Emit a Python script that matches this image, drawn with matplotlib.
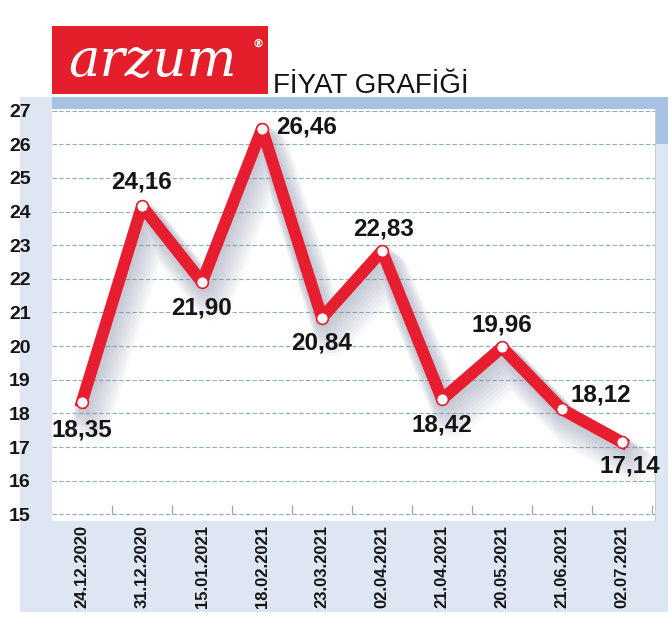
import matplotlib
matplotlib.use("Agg")
from matplotlib import pyplot as plt
from matplotlib import transforms
from matplotlib.patches import Rectangle

# Data
dates = ["24.12.2020", "31.12.2020", "15.01.2021", "18.02.2021", "23.03.2021",
         "02.04.2021", "21.04.2021", "20.05.2021", "21.06.2021", "02.07.2021"]
prices = [18.35, 24.16, 21.90, 26.46, 20.84, 22.83, 18.42, 19.96, 18.12, 17.14]
y_ticks = list(range(15, 28))

# where each value label sits relative to its point (dx px, dy px, ha)
label_pos = [(0, -28, "center"), (0, 24, "center"), (0, -26, "center"),
             (14, 2, "left"), (0, -25, "center"), (2, 22, "center"),
             (0, -26, "center"), (0, 22, "center"), (8, 14, "left"),
             (-22, -24, "left")]

W, H = 672, 626
RED = "#e61e30"
FONT = ["Liberation Sans", "DejaVu Sans"]

fig = plt.figure(figsize=(W / 100, H / 100), dpi=100)
fig.patch.set_facecolor("white")


def box(x, y, w, h):
    """ pixel box (top-left origin) -> figure fraction rect """
    return [x / W, 1 - (y + h) / H, w / W, h / H]


def add_rect(x, y, w, h, color, z=0):
    r = Rectangle(box(x, y, w, h)[:2], w / W, h / H, transform=fig.transFigure,
                  facecolor=color, edgecolor="none", zorder=z)
    fig.patches.append(r)


# background frame
add_rect(20, 97, 648, 515, "#dde6f2")
add_rect(52, 97, 616, 12, "#a7c3e4", z=1)
add_rect(655, 97, 13, 47, "#a7c3e4", z=1)

# logo block and title
add_rect(52, 26, 216, 68, "#e41e2b", z=1)
fig.text(152 / W, 1 - 62 / H, "arzum", color="white", fontsize=38,
         family="DejaVu Serif", style="italic", ha="center", va="center", zorder=3)
fig.text(258 / W, 1 - 44 / H, "®", color="white", fontsize=8, weight="bold",
         ha="center", va="center", zorder=3)
fig.text(273 / W, 1 - 93 / H, "FİYAT GRAFİĞİ", color="#111111", fontsize=20,
         family=FONT, ha="left", va="baseline", zorder=3)

# plot area
ax = fig.add_axes(box(52, 109, 603, 412))
ax.set_facecolor("white")
ax.set_zorder(2)
ax.set_xlim(-0.5, 9.55)
ax.set_ylim(14.8, 27.05)

for spine in ax.spines.values():
    spine.set_visible(False)
ax.spines["right"].set_visible(True)
ax.spines["right"].set_color("#c8ccd4")

for v in y_ticks:
    ax.axhline(v, color="#8fb0ae", lw=0.8, ls=(0, (4, 2)), zorder=1)
ax.vlines([i + 0.5 for i in range(len(dates))], 15, 15.28, color="#9aa8a8", lw=0.9, zorder=1)

xs = list(range(len(dates)))

# soft shadow below the line
for k in range(1, 10):
    off = transforms.offset_copy(ax.transData, fig=fig, x=k * 1.2, y=-k * 2.4, units="dots")
    ax.plot(xs, prices, color="#7d86a3", lw=10 + k * 1.6, alpha=0.055,
            solid_joinstyle="round", transform=off, zorder=2)

ax.plot(xs, prices, color=RED, lw=8.6, solid_joinstyle="round", zorder=3)
ax.plot(xs, prices, ls="none", marker="o", ms=8.5, mfc="white", mec=RED, mew=1.2, zorder=4)

for x, p, (dx, dy, ha) in zip(xs, prices, label_pos):
    ax.annotate(f"{p:.2f}".replace(".", ","), (x, p), xytext=(dx, dy),
                textcoords="offset pixels", ha=ha, va="center", fontsize=17.5,
                family=FONT, weight="bold", color="#151515", zorder=5)

ax.set_yticks(y_ticks)
ax.set_yticklabels([str(v) for v in y_ticks], family=FONT, fontsize=14,
                   weight="bold", color="#151515")
ax.set_xticks(xs)
ax.set_xticklabels(dates, rotation=90, family=FONT, fontsize=12,
                   weight="bold", color="#151515")
ax.tick_params(axis="y", length=0, pad=10)
ax.tick_params(axis="x", length=0, pad=3)
for t in ax.get_yticklabels():
    t.set_ha("center")
    t.set_x(-0.03)

fig.savefig("out.png", dpi=100)
